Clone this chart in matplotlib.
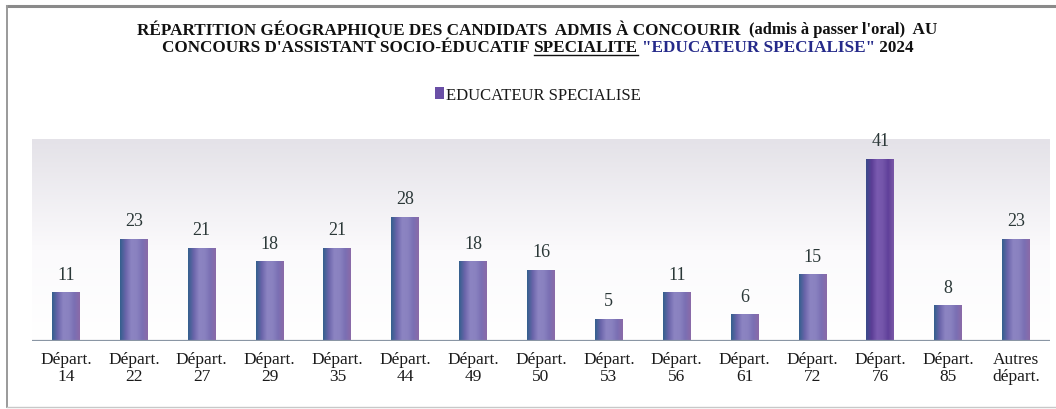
import numpy as np
import matplotlib
matplotlib.use("Agg")
import matplotlib.pyplot as plt
from matplotlib.colors import LinearSegmentedColormap
from matplotlib.lines import Line2D
from matplotlib.patches import Patch

# ---------------- data ----------------
categories = ["Départ.\n14", "Départ.\n22", "Départ.\n27", "Départ.\n29", "Départ.\n35",
              "Départ.\n44", "Départ.\n49", "Départ.\n50", "Départ.\n53", "Départ.\n56",
              "Départ.\n61", "Départ.\n72", "Départ.\n76", "Départ.\n85", "Autres\ndépart."]
values = [11, 23, 21, 18, 21, 28, 18, 16, 5, 11, 6, 15, 41, 8, 23]
series_name = "EDUCATEUR SPECIALISE"

W, H = 1056, 410
fig = plt.figure(figsize=(W / 100, H / 100), dpi=100)
fig.patch.set_facecolor("white")
SERIF = ["Liberation Serif", "DejaVu Serif"]

# outer frame (scanned box)
fig.add_artist(Line2D([7 / W, 1.0], [1 - 7 / H, 1 - 7 / H], color="#8a8a8a", lw=2.2))
fig.add_artist(Line2D([7 / W, 7 / W], [2 / H, 1 - 7 / H], color="#9a9a9a", lw=1.4))
fig.add_artist(Line2D([7 / W, 1.0], [2 / H, 2 / H], color="#c8c8c8", lw=1.0))

ax = fig.add_axes([32 / W, (H - 342) / H, 1018 / W, 202 / H])
x = np.arange(len(values))
ax.set_xlim(-0.5, len(values) - 0.5)
ax.set_ylim(0, 45.5)

# background gradient (light grey at top fading to white)
grad = np.linspace(0, 1, 256).reshape(-1, 1)
bg_cmap = LinearSegmentedColormap.from_list("bg", [(0, "#ffffff"), (0.45, "#fbfafc"), (1, "#e4e2e8")])
ax.imshow(grad, cmap=bg_cmap, aspect="auto", origin="lower",
          extent=[-0.5, len(values) - 0.5, 0, 45.5], zorder=0)

bars = ax.bar(x, values, width=0.41, color="#7c72b6", edgecolor="none", zorder=2)

bar_cmap = LinearSegmentedColormap.from_list(
    "bar", ["#34608e", "#6a64aa", "#8c84c2", "#8a82c0", "#7a70b4", "#8a6aa8"])
bar_cmap_dark = LinearSegmentedColormap.from_list(
    "bardark", ["#3a4a8a", "#5c3e96", "#7a5ab0", "#7456aa", "#60409a", "#7a58a6"])
hgrad = np.linspace(0, 1, 64).reshape(1, -1)
for i, b in enumerate(bars):
    cm = bar_cmap_dark if values[i] == max(values) else bar_cmap
    im = ax.imshow(hgrad, cmap=cm, aspect="auto",
                   extent=[b.get_x(), b.get_x() + b.get_width(), 0, b.get_height()], zorder=3)
    im.set_clip_path(b)

for xi, v in zip(x, values):
    ax.annotate(str(v), (xi, v), xytext=(0, 13), textcoords="offset points",
                ha="center", va="center", fontsize=13, family=SERIF, color="#2b3838", zorder=4)

ax.axhline(0, color="#8a96a4", lw=1.6, zorder=5)
for s in ax.spines.values():
    s.set_visible(False)
ax.set_yticks([])
ax.set_xticks(x)
ax.set_xticklabels(categories, fontsize=12.5, family=SERIF, color="#1a1a1a", linespacing=1.12)
ax.tick_params(axis="x", length=0, pad=7)

# legend
leg = fig.legend(handles=[Patch(facecolor="#6a4fa6", edgecolor="none")], labels=[series_name],
                 loc="center", bbox_to_anchor=(538 / W, 1 - 96 / H), frameon=False,
                 prop={"family": SERIF, "size": 12}, handlelength=0.5, handleheight=0.7,
                 handletextpad=0.15)
for t in leg.get_texts():
    t.set_color("#1a1a1a")

# ---------------- title built from pieces ----------------
fig.canvas.draw()
renderer = fig.canvas.get_renderer()

def place_line(pieces, cx, cy):
    texts = []
    for s, kw in pieces:
        t = fig.text(0, cy, s, ha="left", va="center", family=SERIF, **kw)
        texts.append(t)
    widths = [t.get_window_extent(renderer).width for t in texts]
    total = sum(widths)
    xpos = cx * W - total / 2
    out = []
    for t, w in zip(texts, widths):
        t.set_x(xpos / W)
        out.append((xpos, w))
        xpos += w
    return texts, out

bold = {"fontsize": 12.3, "fontweight": "bold", "color": "#111111"}
small = {"fontsize": 12.0, "fontweight": "bold", "color": "#111111"}
blue = {"fontsize": 12.3, "fontweight": "bold", "color": "#252a8a"}

line1 = [("RÉPARTITION GÉOGRAPHIQUE DES CANDIDATS  ADMIS À CONCOURIR  ", bold),
         ("(admis à passer l'oral)", small),
         ("  AU", bold)]
line2 = [("CONCOURS D'ASSISTANT SOCIO-ÉDUCATIF ", bold),
         ("SPECIALITE", bold),
         (" ", bold),
         ("\"EDUCATEUR SPECIALISE\"", blue),
         (" 2024", bold)]

place_line(line1, 537 / W, 1 - 30 / H)
t2, pos2 = place_line(line2, 538 / W, 1 - 48 / H)
ux, uw = pos2[1]
fig.add_artist(Line2D([ux / W, (ux + uw) / W], [1 - 56 / H, 1 - 56 / H], color="#111111", lw=1.0))

fig.savefig("out.png", dpi=100)
